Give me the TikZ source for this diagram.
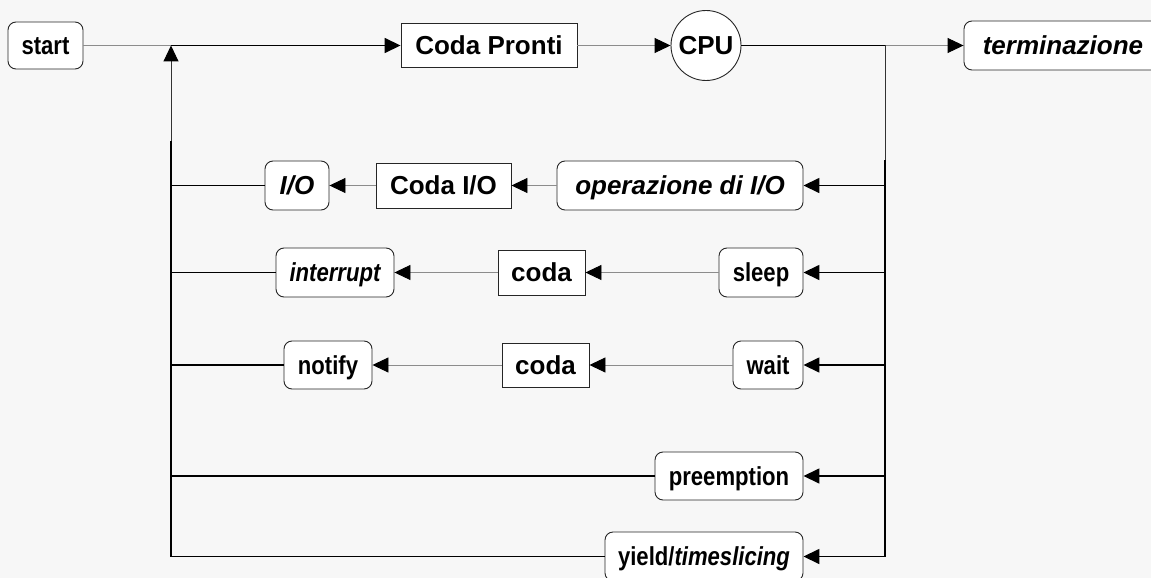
\documentclass[tikz,border=0pt]{standalone}
\usepackage{fontspec}
\setmainfont{Liberation Sans}
\newfontfamily\wfont{Liberation Sans}
\newfontfamily\nfont{Liberation Sans}[FakeStretch=0.85]
\usetikzlibrary{arrows.meta}
\definecolor{bgc}{HTML}{F7F7F7}
\definecolor{thinc}{HTML}{8C8C8C}
\definecolor{darkc}{HTML}{333333}
\begin{document}
\begin{tikzpicture}[x=1pt,y=-1pt,
  >={Triangle[length=16pt,width=15pt,color=black]},
  base/.style={draw=black!85, line width=0.9pt, fill=white, inner sep=0pt,
    text height=18pt, text depth=0pt,
    font=\wfont\bfseries\fontsize{26}{30}\selectfont},
  rbox/.style={base, rectangle, rounded corners=8pt},
  qbox/.style={base, rectangle},
  nar/.style={font=\nfont\bfseries\fontsize{26}{30}\selectfont},
  thinl/.style={draw=thinc, line width=0.9pt},
  darkl/.style={draw=darkc, line width=1pt},
  thickl/.style={draw=black, line width=1.6pt}]
\fill[bgc] (0,0) rectangle (1151,578);
\useasboundingbox (0,0) rectangle (1151,578);
\clip (0,0) rectangle (1151,578);

% top row
\node[rbox,nar,minimum width=75pt,minimum height=47pt] (start) at (45.5,45.5) {start};
\node[qbox,minimum width=176pt,minimum height=44pt] (pronti) at (489,45.5) {Coda Pronti};
\node[base,circle,minimum size=70pt] (cpu) at (706,45.5) {CPU};
\node[rbox,minimum width=198pt,minimum height=49pt] (term) at (1063,45.5) {\itshape terminazione};

% I/O row
\node[rbox,minimum width=64pt,minimum height=49pt] (io) at (297,185.5) {\itshape I/O};
\node[qbox,minimum width=135pt,minimum height=45pt] (codaio) at (443.5,185.5) {Coda I/O};
\node[rbox,minimum width=246pt,minimum height=49pt] (opio) at (680,185.5) {\itshape operazione di I/O};

% sleep row
\node[rbox,nar,minimum width=118pt,minimum height=49pt] (intr) at (335,272.5) {\itshape interrupt};
\node[qbox,minimum width=87pt,minimum height=45pt] (codaA) at (541.5,272.5) {coda};
\node[rbox,nar,minimum width=84pt,minimum height=49pt] (sleep) at (761,272.5) {sleep};

% wait row
\node[rbox,nar,minimum width=88pt,minimum height=48pt] (notify) at (328,365) {notify};
\node[qbox,minimum width=87pt,minimum height=44pt] (codaB) at (545.5,365) {coda};
\node[rbox,nar,minimum width=70pt,minimum height=48pt] (wait) at (768,365) {wait};

% preemption / yield
\node[rbox,nar,minimum width=148pt,minimum height=48pt] (preempt) at (729,476) {preemption};
\node[rbox,nar,minimum width=198pt,minimum height=49pt] (yield) at (704,556.5) {yield/\itshape timeslicing};

% junctions
\coordinate (J) at (171,45.5);
\coordinate (LM) at (171,141);
\coordinate (LB) at (171,556.5);
\coordinate (R0) at (885,45.5);
\coordinate (RM) at (885,160);
\coordinate (RB) at (885,556.5);

% top connectors
\draw[thinl] (start) -- (J);
\draw[thickl,->] (J) -- (pronti);
\draw[darkl,->] (LM) -- (J);
\draw[thickl] (LM) -- (LB);
\draw[thinl,->] (pronti) -- (cpu);
\draw[thickl] (cpu) -- (R0);
\draw[thinl,->] (R0) -- (term);
\draw[darkl] (R0) -- (RM);
\draw[thickl] (RM) -- (RB);

% right branches
\draw[thickl,->] (RB |- opio.east) -- (opio.east);
\draw[thickl,->] (RB |- sleep.east) -- (sleep.east);
\draw[thickl,->] (RB |- wait.east) -- (wait.east);
\draw[thickl,->] (RB |- preempt.east) -- (preempt.east);
\draw[thickl,->] (RB) -- (yield.east);

% inner rows
\draw[thinl,->] (opio) -- (codaio);
\draw[thinl,->] (codaio) -- (io);
\draw[thinl,->] (sleep) -- (codaA);
\draw[thinl,->] (codaA) -- (intr);
\draw[thinl,->] (wait) -- (codaB);
\draw[thinl,->] (codaB) -- (notify);

% left returns
\draw[thickl] (io.west) -- (LB |- io.west);
\draw[thickl] (intr.west) -- (LB |- intr.west);
\draw[thickl] (notify.west) -- (LB |- notify.west);
\draw[thickl] (preempt.west) -- (LB |- preempt.west);
\draw[thickl] (yield.west) -- (LB);
\end{tikzpicture}
\end{document}
